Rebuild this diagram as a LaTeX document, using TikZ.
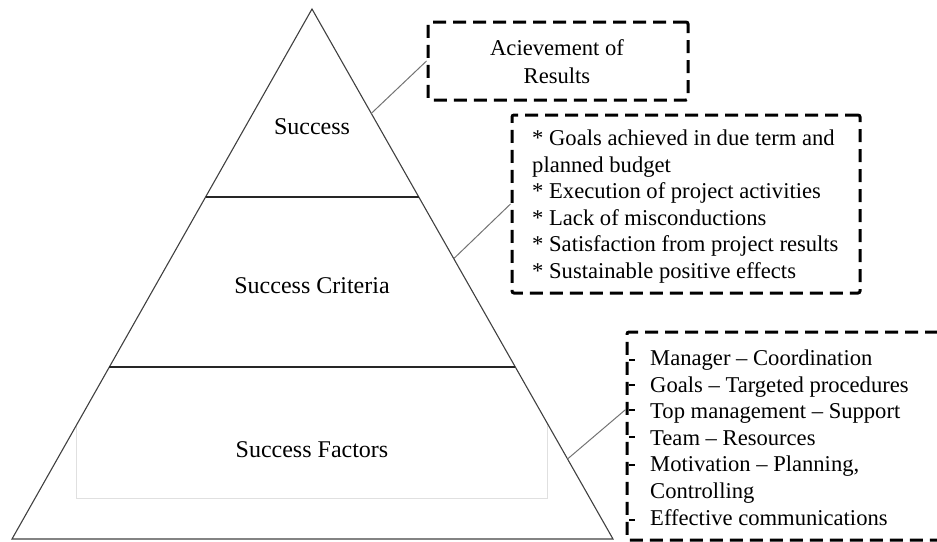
\documentclass[tikz,border=0pt]{standalone}
\usepackage{fontspec}
\setmainfont{Liberation Serif}
\usetikzlibrary{calc}
\begin{document}
\begin{tikzpicture}[x=1pt,y=-1pt,
  tri/.style={draw=black!75, line width=1.1pt},
  tier/.style={draw=black!85, line width=1.6pt},
  conn/.style={draw=black!55, line width=1pt},
  dbox/.style={draw=black, line width=3pt, dash pattern=on 13pt off 7pt, rounded corners=2pt, inner sep=0pt},
  lbl/.style={font=\fontsize{22.6}{26.6}\selectfont, inner sep=0pt},
  plbl/.style={font=\fontsize{24}{28}\selectfont, inner sep=0pt},
  tick/.style={draw=black, line width=1.2pt},
]
\useasboundingbox (0,0) rectangle (937,541);
\clip (0,0) rectangle (937,541);
\coordinate (A) at (312,9);
\coordinate (BL) at (12,539);
\coordinate (BR) at (613,539);
% faint inner rectangle
\draw[black!12, line width=1pt] (76,425) -- (76,498) -- (547,498) -- (547,423);
% pyramid
\draw[tri] (A) -- (BL) -- (BR) -- cycle;
\draw[tier] ($(A)!0.3547!(BL)$) -- ($(A)!0.3547!(BR)$);
\draw[tier] ($(A)!0.6755!(BL)$) -- ($(A)!0.6755!(BR)$);
\node[plbl] (s) at (312,127) {Success};
\node[plbl] (sc) at (312,286) {Success Criteria};
\node[plbl] (sf) at (312,450) {Success Factors};
% boxes
\node[dbox, minimum width=260pt, minimum height=78pt] (b1) at (558,61) {};
\node[lbl, align=center] (t1) at (557,62) {Acievement of\\[1.5pt]Results};
\node[dbox, minimum width=348pt, minimum height=178pt] (b2) at (686,204) {};
\node[lbl, align=left, anchor=west] (t2) at (532,206.5) {* Goals achieved in due term and\\planned budget\\* Execution of project activities\\* Lack of misconductions\\* Satisfaction from project results\\* Sustainable positive effects};
\node[dbox, minimum width=333pt, minimum height=208pt] (b3) at (793.5,436) {};
\node[lbl, align=left, anchor=west] (t3) at (650,437.5) {Manager – Coordination\\Goals – Targeted procedures\\Top management – Support\\Team – Resources\\Motivation – Planning,\\Controlling\\Effective communications};
\foreach \y in {360,385,410,437,465,520} \draw[tick] (629,\y) -- (635,\y);
% connectors
\draw[conn] ($(A)!0.197!(BR)$) -- (b1.west);
\draw[conn] ($(A)!0.471!(BR)$) -- (b2.west);
\coordinate (b3c) at ($(b3.north west)!0.375!(b3.south west)$);
\draw[conn] ($(A)!0.849!(BR)$) -- (b3c);
\end{tikzpicture}
\end{document}
